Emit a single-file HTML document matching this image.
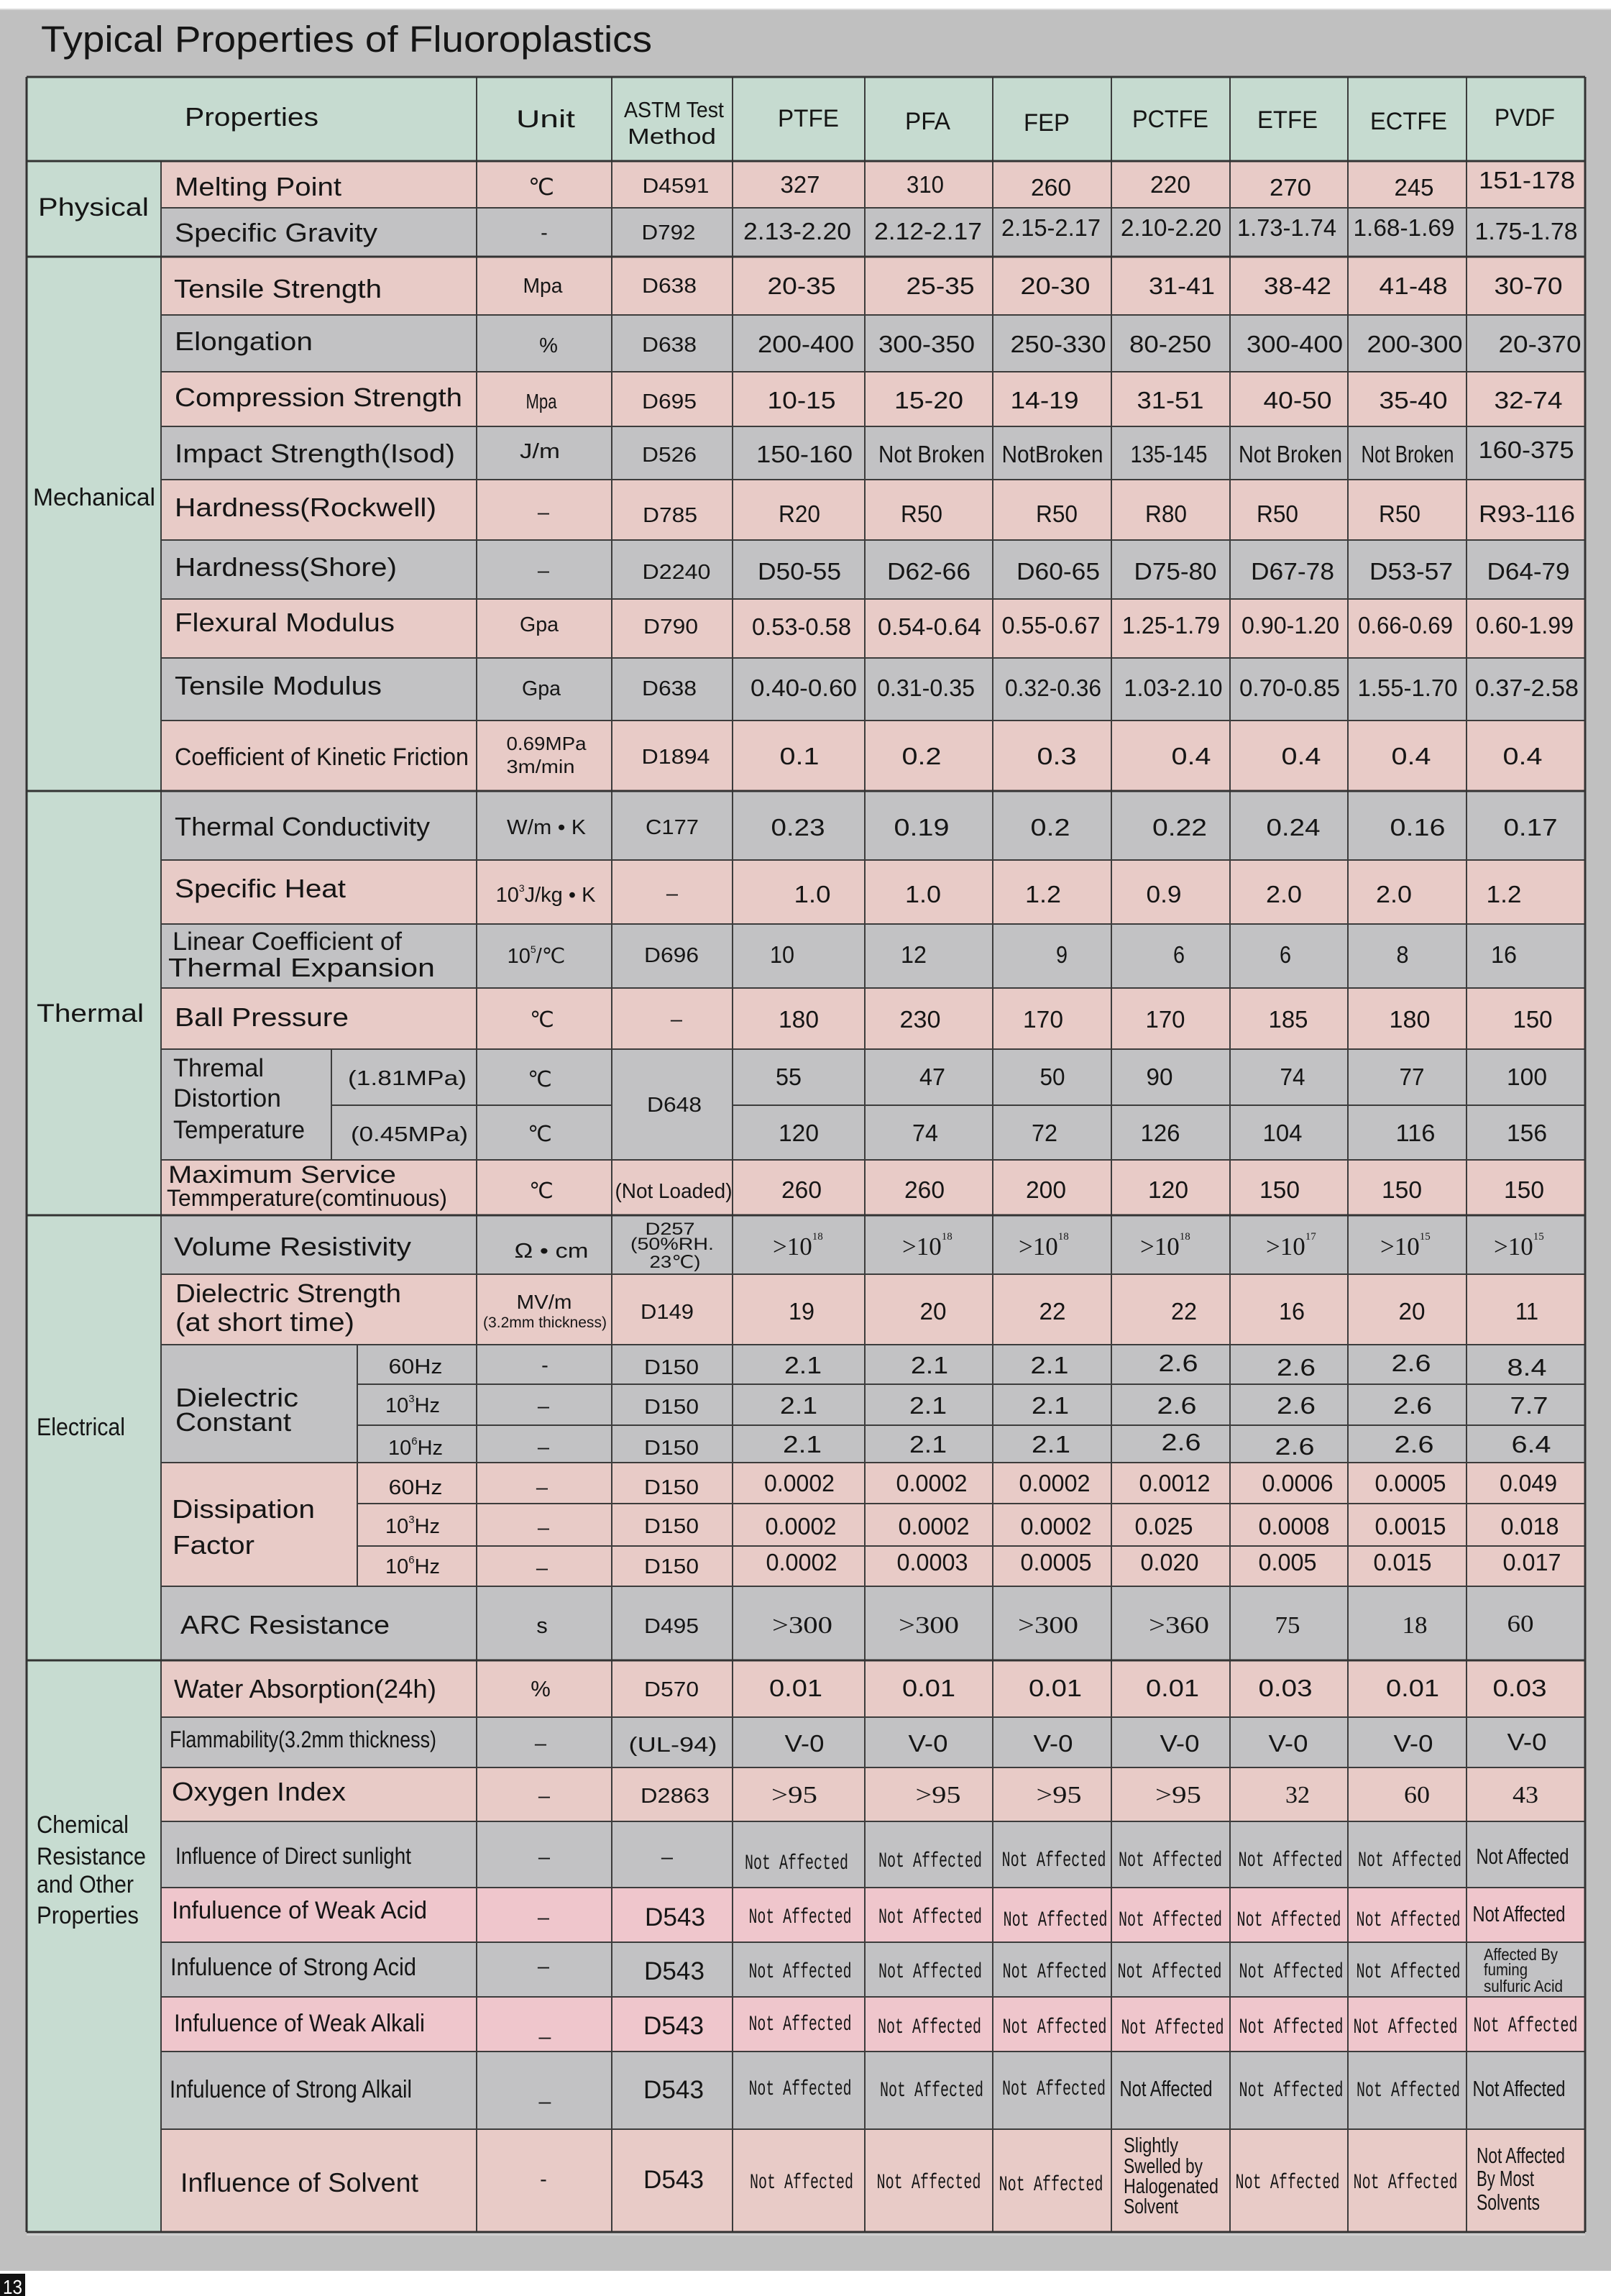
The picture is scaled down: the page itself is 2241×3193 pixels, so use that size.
<!DOCTYPE html>
<html><head><meta charset="utf-8">
<style>
html,body{margin:0;padding:0;background:#fff;}
svg{display:block;}
.t{font-family:"Liberation Sans",sans-serif;fill:#151515;}
.m{text-anchor:middle;}
.s{font-family:"Liberation Serif",serif;}
.na{font-family:"Liberation Mono",monospace;}
</style></head>
<body>
<svg xmlns="http://www.w3.org/2000/svg" width="2241" height="3193" viewBox="0 0 2241 3193">
<rect x="0" y="0" width="2241" height="3193" fill="#ffffff"/>
<rect x="0" y="12" width="2241" height="3146" fill="#c0c0c0"/>
<rect x="0" y="12" width="2241" height="2" fill="#d8d8d8"/>
<text class="t" x="57" y="72" font-size="51" textLength="850" lengthAdjust="spacingAndGlyphs">Typical Properties of Fluoroplastics</text>

<!-- header & category fills -->
<rect x="37" y="107" width="2168" height="117" fill="#c6dbd0"/>
<rect x="37" y="224" width="187" height="2880" fill="#c7dcd1"/>
<!-- row fills -->
<g>
<rect x="224" y="224" width="1981" height="65" fill="#e8cbc7"/>
<rect x="224" y="289" width="1981" height="68" fill="#c2c2c4"/>
<rect x="224" y="357" width="1981" height="81" fill="#e8cbc7"/>
<rect x="224" y="438" width="1981" height="79" fill="#c2c2c4"/>
<rect x="224" y="517" width="1981" height="76" fill="#e8cbc7"/>
<rect x="224" y="593" width="1981" height="74" fill="#c2c2c4"/>
<rect x="224" y="667" width="1981" height="84" fill="#e8cbc7"/>
<rect x="224" y="751" width="1981" height="82" fill="#c2c2c4"/>
<rect x="224" y="833" width="1981" height="82" fill="#e8cbc7"/>
<rect x="224" y="915" width="1981" height="87" fill="#c2c2c4"/>
<rect x="224" y="1002" width="1981" height="98" fill="#e8cbc7"/>
<rect x="224" y="1100" width="1981" height="96" fill="#c2c2c4"/>
<rect x="224" y="1196" width="1981" height="89" fill="#e8cbc7"/>
<rect x="224" y="1285" width="1981" height="89" fill="#c2c2c4"/>
<rect x="224" y="1374" width="1981" height="85" fill="#e8cbc7"/>
<rect x="224" y="1459" width="1981" height="154" fill="#c2c2c4"/>
<rect x="224" y="1613" width="1981" height="77" fill="#e8cbc7"/>
<rect x="224" y="1690" width="1981" height="82" fill="#c2c2c4"/>
<rect x="224" y="1772" width="1981" height="98" fill="#e8cbc7"/>
<rect x="224" y="1870" width="1981" height="164" fill="#c2c2c4"/>
<rect x="224" y="2034" width="1981" height="172" fill="#e8cbc7"/>
<rect x="224" y="2206" width="1981" height="103" fill="#c2c2c4"/>
<rect x="224" y="2309" width="1981" height="79" fill="#e8cbc7"/>
<rect x="224" y="2388" width="1981" height="70" fill="#c2c2c4"/>
<rect x="224" y="2458" width="1981" height="75" fill="#e8cbc7"/>
<rect x="224" y="2533" width="1981" height="92" fill="#c2c2c4"/>
<rect x="224" y="2625" width="1981" height="76" fill="#efc6cc"/>
<rect x="224" y="2701" width="1981" height="76" fill="#c2c2c4"/>
<rect x="224" y="2777" width="1981" height="76" fill="#efc6cc"/>
<rect x="224" y="2853" width="1981" height="108" fill="#c2c2c4"/>
<rect x="224" y="2961" width="1981" height="143" fill="#e8cbc7"/>
</g>

<!-- grid lines -->
<g stroke="#3c3c3c" stroke-width="2" fill="none">
<path d="M224 289H2205M224 438H2205M224 517H2205M224 593H2205M224 667H2205M224 751H2205M224 833H2205M224 915H2205M224 1002H2205M224 1196H2205M224 1285H2205M224 1374H2205M224 1459H2205M224 1613H2205M224 1772H2205M224 1870H2205M224 2034H2205M224 2206H2205M224 2388H2205M224 2458H2205M224 2533H2205M224 2625H2205M224 2701H2205M224 2777H2205M224 2853H2205M224 2961H2205"/>
<path d="M461 1537H851M1019 1537H2205M497 1925H2205M497 1982H2205M497 2091H2205M497 2150H2205"/>
<path d="M663 107V3104M851 107V3104M1019 107V3104M1203 107V3104M1381 107V3104M1546 107V3104M1711 107V3104M1875 107V3104M2040 107V3104M224 224V3104M461 1459V1613M497 1870V2206"/>
</g>
<g stroke="#333" stroke-width="3" fill="none">
<path d="M37 107H2205M37 224H2205M37 357H2205M37 1100H2205M37 1690H2205M37 2309H2205M37 3104H2205"/>
<path d="M37 107V3104M2205 107V3104"/>
</g>
<rect x="37" y="3106" width="2168" height="3" fill="#d0d0d0"/>

<!-- header text -->
<g class="t" font-size="34">
<text x="257" y="175" font-size="36" textLength="186" lengthAdjust="spacingAndGlyphs">Properties</text>
<text x="718" y="177" textLength="82" lengthAdjust="spacingAndGlyphs">Unit</text>
<text x="868" y="163" font-size="31" textLength="139" lengthAdjust="spacingAndGlyphs">ASTM Test</text>
<text x="873" y="200" font-size="31" textLength="123" lengthAdjust="spacingAndGlyphs">Method</text>
<text x="1082" y="176" textLength="85" lengthAdjust="spacingAndGlyphs">PTFE</text>
<text x="1259" y="180" textLength="63" lengthAdjust="spacingAndGlyphs">PFA</text>
<text x="1424" y="182" textLength="64" lengthAdjust="spacingAndGlyphs">FEP</text>
<text x="1575" y="177" textLength="106" lengthAdjust="spacingAndGlyphs">PCTFE</text>
<text x="1749" y="178" textLength="84" lengthAdjust="spacingAndGlyphs">ETFE</text>
<text x="1906" y="180" textLength="107" lengthAdjust="spacingAndGlyphs">ECTFE</text>
<text x="2079" y="175" textLength="84" lengthAdjust="spacingAndGlyphs">PVDF</text>
</g>

<!-- category labels -->
<g class="t" font-size="35">
<text x="53" y="300" textLength="154" lengthAdjust="spacingAndGlyphs">Physical</text>
<text x="46" y="703" font-size="34" textLength="170" lengthAdjust="spacingAndGlyphs">Mechanical</text>
<text x="51" y="1421" textLength="149" lengthAdjust="spacingAndGlyphs">Thermal</text>
<text x="51" y="1996" font-size="34" textLength="123" lengthAdjust="spacingAndGlyphs">Electrical</text>
<text x="51" y="2549" font-size="34" textLength="128" lengthAdjust="spacingAndGlyphs">Chemical</text>
<text x="51" y="2593" font-size="34" textLength="152" lengthAdjust="spacingAndGlyphs">Resistance</text>
<text x="51" y="2632" font-size="34" textLength="135" lengthAdjust="spacingAndGlyphs">and Other</text>
<text x="51" y="2675" font-size="34" textLength="142" lengthAdjust="spacingAndGlyphs">Properties</text>
</g>

<!-- property labels -->
<g class="t" font-size="36">
<text x="243" y="272" textLength="232" lengthAdjust="spacingAndGlyphs">Melting Point</text>
<text x="243" y="336" textLength="282" lengthAdjust="spacingAndGlyphs">Specific Gravity</text>
<text x="242" y="414" textLength="289" lengthAdjust="spacingAndGlyphs">Tensile Strength</text>
<text x="243" y="487" textLength="192" lengthAdjust="spacingAndGlyphs">Elongation</text>
<text x="243" y="565" textLength="400" lengthAdjust="spacingAndGlyphs">Compression Strength</text>
<text x="243" y="643" textLength="390" lengthAdjust="spacingAndGlyphs">Impact Strength(Isod)</text>
<text x="243" y="718" textLength="364" lengthAdjust="spacingAndGlyphs">Hardness(Rockwell)</text>
<text x="243" y="801" textLength="309" lengthAdjust="spacingAndGlyphs">Hardness(Shore)</text>
<text x="243" y="878" textLength="306" lengthAdjust="spacingAndGlyphs">Flexural Modulus</text>
<text x="243" y="966" textLength="288" lengthAdjust="spacingAndGlyphs">Tensile Modulus</text>
<text x="243" y="1064" font-size="34" textLength="409" lengthAdjust="spacingAndGlyphs">Coefficient of Kinetic Friction</text>
<text x="243" y="1162" textLength="355" lengthAdjust="spacingAndGlyphs">Thermal Conductivity</text>
<text x="243" y="1248" textLength="238" lengthAdjust="spacingAndGlyphs">Specific Heat</text>
<text x="240" y="1321" font-size="35" textLength="319" lengthAdjust="spacingAndGlyphs">Linear Coefficient of</text>
<text x="234" y="1358" textLength="371" lengthAdjust="spacingAndGlyphs">Thermal  Expansion</text>
<text x="243" y="1427" textLength="242" lengthAdjust="spacingAndGlyphs">Ball Pressure</text>
<text x="241" y="1497" font-size="35" textLength="126" lengthAdjust="spacingAndGlyphs">Thremal</text>
<text x="241" y="1539" font-size="35" textLength="150" lengthAdjust="spacingAndGlyphs">Distortion</text>
<text x="241" y="1583" font-size="35" textLength="183" lengthAdjust="spacingAndGlyphs">Temperature</text>
<text x="484" y="1509" font-size="29" textLength="165" lengthAdjust="spacingAndGlyphs">(1.81MPa)</text>
<text x="488" y="1587" font-size="29" textLength="163" lengthAdjust="spacingAndGlyphs">(0.45MPa)</text>
<text x="234" y="1645" font-size="34" textLength="317" lengthAdjust="spacingAndGlyphs">Maximum Service</text>
<text x="232" y="1677" font-size="32" textLength="390" lengthAdjust="spacingAndGlyphs">Temmperature(comtinuous)</text>
<text x="242" y="1746" textLength="330" lengthAdjust="spacingAndGlyphs">Volume Resistivity</text>
<text x="244" y="1811" font-size="36" textLength="314" lengthAdjust="spacingAndGlyphs">Dielectric Strength</text>
<text x="244" y="1851" font-size="36" textLength="249" lengthAdjust="spacingAndGlyphs">(at short time)</text>
<text x="244" y="1956" font-size="36" textLength="171" lengthAdjust="spacingAndGlyphs">Dielectric</text>
<text x="244" y="1990" font-size="36" textLength="161" lengthAdjust="spacingAndGlyphs">Constant</text>
<text x="239" y="2111" font-size="36" textLength="199" lengthAdjust="spacingAndGlyphs">Dissipation</text>
<text x="240" y="2161" font-size="36" textLength="114" lengthAdjust="spacingAndGlyphs">Factor</text>
<text x="251" y="2272" textLength="291" lengthAdjust="spacingAndGlyphs">ARC Resistance</text>
<text x="242" y="2361" font-size="36" textLength="365" lengthAdjust="spacingAndGlyphs">Water Absorption(24h)</text>
<text x="236" y="2430" font-size="32" textLength="371" lengthAdjust="spacingAndGlyphs">Flammability(3.2mm thickness)</text>
<text x="239" y="2504" textLength="242" lengthAdjust="spacingAndGlyphs">Oxygen Index</text>
<text x="244" y="2592" font-size="32" textLength="328" lengthAdjust="spacingAndGlyphs">Influence of Direct sunlight</text>
<text x="239" y="2668" font-size="34" textLength="355" lengthAdjust="spacingAndGlyphs">Infuluence of Weak Acid</text>
<text x="237" y="2747" font-size="34" textLength="342" lengthAdjust="spacingAndGlyphs">Infuluence of Strong Acid</text>
<text x="242" y="2825" font-size="34" textLength="349" lengthAdjust="spacingAndGlyphs">Infuluence of Weak Alkali</text>
<text x="236" y="2917" font-size="34" textLength="337" lengthAdjust="spacingAndGlyphs">Infuluence of Strong Alkail</text>
<text x="251" y="3048" font-size="37" textLength="331" lengthAdjust="spacingAndGlyphs">Influence of Solvent</text>
</g>
<g class="t m" font-size="29">
<text x="578" y="1910" textLength="75" lengthAdjust="spacingAndGlyphs">60Hz</text>
<text x="574" y="1964">10<tspan font-size="15" dy="-14">3</tspan><tspan dy="14">Hz</tspan></text>
<text x="578" y="2023">10<tspan font-size="15" dy="-14">6</tspan><tspan dy="14">Hz</tspan></text>
<text x="578" y="2078" textLength="75" lengthAdjust="spacingAndGlyphs">60Hz</text>
<text x="574" y="2132">10<tspan font-size="15" dy="-14">3</tspan><tspan dy="14">Hz</tspan></text>
<text x="574" y="2188">10<tspan font-size="15" dy="-14">6</tspan><tspan dy="14">Hz</tspan></text>
</g>

<!-- unit column -->
<g class="t m" font-size="29">
<text x="753" y="271" font-size="32">℃</text>
<text x="757" y="333">-</text>
<text x="755" y="407" textLength="55" lengthAdjust="spacingAndGlyphs">Mpa</text>
<text x="763" y="490">%</text>
<text x="753" y="568" textLength="43" lengthAdjust="spacingAndGlyphs">Mpa</text>
<text x="751" y="637" textLength="56" lengthAdjust="spacingAndGlyphs">J/m</text>
<text x="756" y="722">–</text>
<text x="756" y="803">–</text>
<text x="750" y="878" textLength="54" lengthAdjust="spacingAndGlyphs">Gpa</text>
<text x="753" y="967" textLength="54" lengthAdjust="spacingAndGlyphs">Gpa</text>
<text x="760" y="1043" font-size="26" textLength="111" lengthAdjust="spacingAndGlyphs">0.69MPa</text>
<text x="752" y="1075" font-size="26" textLength="95" lengthAdjust="spacingAndGlyphs">3m/min</text>
<text x="760" y="1160" textLength="110" lengthAdjust="spacingAndGlyphs">W/m • K</text>
<text x="759" y="1254">10<tspan font-size="14" dy="-14">3</tspan><tspan dy="14">J/kg • K</tspan></text>
<text x="746" y="1339">10<tspan font-size="14" dy="-14">5</tspan><tspan dy="14">/℃</tspan></text>
<text x="754" y="1428" font-size="30">℃</text>
<text x="751" y="1511" font-size="30">℃</text>
<text x="751" y="1587" font-size="30">℃</text>
<text x="753" y="1666" font-size="30">℃</text>
<text x="767" y="1749" textLength="103" lengthAdjust="spacingAndGlyphs">Ω • cm</text>
<text x="757" y="1820" font-size="28" textLength="77" lengthAdjust="spacingAndGlyphs">MV/m</text>
<text x="758" y="1846" font-size="21" textLength="172" lengthAdjust="spacingAndGlyphs">(3.2mm thickness)</text>
<text x="758" y="1908">-</text>
<text x="756" y="1965">–</text>
<text x="756" y="2022">–</text>
<text x="754" y="2078">–</text>
<text x="756" y="2134">–</text>
<text x="754" y="2190">–</text>
<text x="754" y="2271" font-size="31">s</text>
<text x="752" y="2359" font-size="31">%</text>
<text x="752" y="2434">–</text>
<text x="757" y="2507">–</text>
<text x="757" y="2592">–</text>
<text x="756" y="2676">–</text>
<text x="756" y="2744">–</text>
<text x="758" y="2830">_</text>
<text x="758" y="2920">_</text>
<text x="756" y="3040">-</text>
</g>

<!-- ASTM column -->
<g class="t m" font-size="29">
<text x="940" y="268" textLength="93" lengthAdjust="spacingAndGlyphs">D4591</text>
<text x="930" y="333" textLength="75" lengthAdjust="spacingAndGlyphs">D792</text>
<text x="931" y="407" textLength="76" lengthAdjust="spacingAndGlyphs">D638</text>
<text x="931" y="489" textLength="76" lengthAdjust="spacingAndGlyphs">D638</text>
<text x="931" y="568" textLength="76" lengthAdjust="spacingAndGlyphs">D695</text>
<text x="931" y="642" textLength="76" lengthAdjust="spacingAndGlyphs">D526</text>
<text x="932" y="726" textLength="76" lengthAdjust="spacingAndGlyphs">D785</text>
<text x="941" y="805" textLength="95" lengthAdjust="spacingAndGlyphs">D2240</text>
<text x="933" y="881" textLength="76" lengthAdjust="spacingAndGlyphs">D790</text>
<text x="931" y="967" textLength="76" lengthAdjust="spacingAndGlyphs">D638</text>
<text x="940" y="1062" textLength="95" lengthAdjust="spacingAndGlyphs">D1894</text>
<text x="935" y="1160" textLength="74" lengthAdjust="spacingAndGlyphs">C177</text>
<text x="935" y="1252">–</text>
<text x="934" y="1338" textLength="76" lengthAdjust="spacingAndGlyphs">D696</text>
<text x="941" y="1427">–</text>
<text x="938" y="1546" textLength="76" lengthAdjust="spacingAndGlyphs">D648</text>
<text x="937" y="1666" textLength="163" lengthAdjust="spacingAndGlyphs">(Not Loaded)</text>
<text x="932" y="1717" font-size="24" textLength="69" lengthAdjust="spacingAndGlyphs">D257</text>
<text x="935" y="1738" font-size="24" textLength="116" lengthAdjust="spacingAndGlyphs">(50%RH.</text>
<text x="939" y="1763" font-size="24" textLength="71" lengthAdjust="spacingAndGlyphs">23℃)</text>
<text x="928" y="1834" textLength="74" lengthAdjust="spacingAndGlyphs">D149</text>
<text x="934" y="1911" textLength="76" lengthAdjust="spacingAndGlyphs">D150</text>
<text x="934" y="1966" textLength="76" lengthAdjust="spacingAndGlyphs">D150</text>
<text x="934" y="2023" textLength="76" lengthAdjust="spacingAndGlyphs">D150</text>
<text x="934" y="2078" textLength="76" lengthAdjust="spacingAndGlyphs">D150</text>
<text x="934" y="2132" textLength="76" lengthAdjust="spacingAndGlyphs">D150</text>
<text x="934" y="2188" textLength="76" lengthAdjust="spacingAndGlyphs">D150</text>
<text x="934" y="2271" textLength="76" lengthAdjust="spacingAndGlyphs">D495</text>
<text x="934" y="2359" textLength="76" lengthAdjust="spacingAndGlyphs">D570</text>
<text x="936" y="2436" textLength="123" lengthAdjust="spacingAndGlyphs">(UL-94)</text>
<text x="939" y="2507" textLength="96" lengthAdjust="spacingAndGlyphs">D2863</text>
<text x="928" y="2592">–</text>
<text x="939" y="2678" font-size="35" textLength="84" lengthAdjust="spacingAndGlyphs">D543</text>
<text x="938" y="2753" font-size="35" textLength="84" lengthAdjust="spacingAndGlyphs">D543</text>
<text x="937" y="2829" font-size="35" textLength="84" lengthAdjust="spacingAndGlyphs">D543</text>
<text x="937" y="2918" font-size="35" textLength="84" lengthAdjust="spacingAndGlyphs">D543</text>
<text x="937" y="3043" font-size="35" textLength="84" lengthAdjust="spacingAndGlyphs">D543</text>
</g>

<!-- data values -->
<g class="t m" font-size="33">
<!-- melting -->
<text x="1113" y="268" textLength="55" lengthAdjust="spacingAndGlyphs">327</text>
<text x="1287" y="268" textLength="52" lengthAdjust="spacingAndGlyphs">310</text>
<text x="1462" y="272" textLength="56" lengthAdjust="spacingAndGlyphs">260</text>
<text x="1628" y="268" textLength="56" lengthAdjust="spacingAndGlyphs">220</text>
<text x="1795" y="272" textLength="58" lengthAdjust="spacingAndGlyphs">270</text>
<text x="1967" y="272" textLength="55" lengthAdjust="spacingAndGlyphs">245</text>
<text x="2124" y="262" textLength="134" lengthAdjust="spacingAndGlyphs">151-178</text>
<!-- SG -->
<text x="1109" y="333" textLength="150" lengthAdjust="spacingAndGlyphs">2.13-2.20</text>
<text x="1291" y="333" textLength="150" lengthAdjust="spacingAndGlyphs">2.12-2.17</text>
<text x="1462" y="328" textLength="138" lengthAdjust="spacingAndGlyphs">2.15-2.17</text>
<text x="1629" y="328" textLength="140" lengthAdjust="spacingAndGlyphs">2.10-2.20</text>
<text x="1790" y="328" textLength="138" lengthAdjust="spacingAndGlyphs">1.73-1.74</text>
<text x="1953" y="328" textLength="141" lengthAdjust="spacingAndGlyphs">1.68-1.69</text>
<text x="2123" y="333" textLength="143" lengthAdjust="spacingAndGlyphs">1.75-1.78</text>
<!-- tensile -->
<text x="1115" y="409" textLength="95" lengthAdjust="spacingAndGlyphs">20-35</text>
<text x="1308" y="409" textLength="95" lengthAdjust="spacingAndGlyphs">25-35</text>
<text x="1468" y="409" textLength="97" lengthAdjust="spacingAndGlyphs">20-30</text>
<text x="1644" y="409" textLength="92" lengthAdjust="spacingAndGlyphs">31-41</text>
<text x="1805" y="409" textLength="94" lengthAdjust="spacingAndGlyphs">38-42</text>
<text x="1966" y="409" textLength="95" lengthAdjust="spacingAndGlyphs">41-48</text>
<text x="2126" y="409" textLength="95" lengthAdjust="spacingAndGlyphs">30-70</text>
<!-- elongation -->
<text x="1121" y="490" textLength="134" lengthAdjust="spacingAndGlyphs">200-400</text>
<text x="1289" y="490" textLength="134" lengthAdjust="spacingAndGlyphs">300-350</text>
<text x="1472" y="490" textLength="133" lengthAdjust="spacingAndGlyphs">250-330</text>
<text x="1628" y="490" textLength="114" lengthAdjust="spacingAndGlyphs">80-250</text>
<text x="1801" y="490" textLength="134" lengthAdjust="spacingAndGlyphs">300-400</text>
<text x="1968" y="490" textLength="133" lengthAdjust="spacingAndGlyphs">200-300</text>
<text x="2142" y="490" textLength="115" lengthAdjust="spacingAndGlyphs">20-370</text>
<!-- compression -->
<text x="1115" y="568" textLength="95" lengthAdjust="spacingAndGlyphs">10-15</text>
<text x="1292" y="568" textLength="96" lengthAdjust="spacingAndGlyphs">15-20</text>
<text x="1453" y="568" textLength="95" lengthAdjust="spacingAndGlyphs">14-19</text>
<text x="1628" y="568" textLength="93" lengthAdjust="spacingAndGlyphs">31-51</text>
<text x="1805" y="568" textLength="95" lengthAdjust="spacingAndGlyphs">40-50</text>
<text x="1966" y="568" textLength="95" lengthAdjust="spacingAndGlyphs">35-40</text>
<text x="2126" y="568" textLength="95" lengthAdjust="spacingAndGlyphs">32-74</text>
<!-- impact -->
<text x="1119" y="643" textLength="134" lengthAdjust="spacingAndGlyphs">150-160</text>
<text x="1296" y="643" textLength="148" lengthAdjust="spacingAndGlyphs">Not Broken</text>
<text x="1464" y="643" textLength="141" lengthAdjust="spacingAndGlyphs">NotBroken</text>
<text x="1626" y="643" textLength="107" lengthAdjust="spacingAndGlyphs">135-145</text>
<text x="1795" y="643" textLength="144" lengthAdjust="spacingAndGlyphs">Not Broken</text>
<text x="1958" y="643" textLength="129" lengthAdjust="spacingAndGlyphs">Not Broken</text>
<text x="2123" y="637" textLength="133" lengthAdjust="spacingAndGlyphs">160-375</text>
<!-- hardness R -->
<text x="1112" y="726" textLength="58" lengthAdjust="spacingAndGlyphs">R20</text>
<text x="1282" y="726" textLength="58" lengthAdjust="spacingAndGlyphs">R50</text>
<text x="1470" y="726" textLength="58" lengthAdjust="spacingAndGlyphs">R50</text>
<text x="1622" y="726" textLength="58" lengthAdjust="spacingAndGlyphs">R80</text>
<text x="1777" y="726" textLength="58" lengthAdjust="spacingAndGlyphs">R50</text>
<text x="1947" y="726" textLength="58" lengthAdjust="spacingAndGlyphs">R50</text>
<text x="2124" y="726" textLength="134" lengthAdjust="spacingAndGlyphs">R93-116</text>
<!-- shore -->
<text x="1112" y="806" textLength="116" lengthAdjust="spacingAndGlyphs">D50-55</text>
<text x="1292" y="806" textLength="116" lengthAdjust="spacingAndGlyphs">D62-66</text>
<text x="1472" y="806" textLength="116" lengthAdjust="spacingAndGlyphs">D60-65</text>
<text x="1635" y="806" textLength="115" lengthAdjust="spacingAndGlyphs">D75-80</text>
<text x="1798" y="806" textLength="116" lengthAdjust="spacingAndGlyphs">D67-78</text>
<text x="1963" y="806" textLength="116" lengthAdjust="spacingAndGlyphs">D53-57</text>
<text x="2126" y="806" textLength="115" lengthAdjust="spacingAndGlyphs">D64-79</text>
<!-- flexural -->
<text x="1115" y="883" textLength="138" lengthAdjust="spacingAndGlyphs">0.53-0.58</text>
<text x="1293" y="883" textLength="144" lengthAdjust="spacingAndGlyphs">0.54-0.64</text>
<text x="1462" y="881" textLength="137" lengthAdjust="spacingAndGlyphs">0.55-0.67</text>
<text x="1629" y="881" textLength="136" lengthAdjust="spacingAndGlyphs">1.25-1.79</text>
<text x="1795" y="881" textLength="136" lengthAdjust="spacingAndGlyphs">0.90-1.20</text>
<text x="1955" y="881" textLength="132" lengthAdjust="spacingAndGlyphs">0.66-0.69</text>
<text x="2121" y="881" textLength="136" lengthAdjust="spacingAndGlyphs">0.60-1.99</text>
<!-- tensile modulus -->
<text x="1118" y="968" textLength="148" lengthAdjust="spacingAndGlyphs">0.40-0.60</text>
<text x="1288" y="968" textLength="136" lengthAdjust="spacingAndGlyphs">0.31-0.35</text>
<text x="1465" y="968" textLength="134" lengthAdjust="spacingAndGlyphs">0.32-0.36</text>
<text x="1632" y="968" textLength="137" lengthAdjust="spacingAndGlyphs">1.03-2.10</text>
<text x="1794" y="968" textLength="140" lengthAdjust="spacingAndGlyphs">0.70-0.85</text>
<text x="1958" y="968" textLength="139" lengthAdjust="spacingAndGlyphs">1.55-1.70</text>
<text x="2124" y="968" textLength="144" lengthAdjust="spacingAndGlyphs">0.37-2.58</text>
<!-- coefficient -->
<text x="1112" y="1063" textLength="55" lengthAdjust="spacingAndGlyphs">0.1</text>
<text x="1282" y="1063" textLength="55" lengthAdjust="spacingAndGlyphs">0.2</text>
<text x="1470" y="1063" textLength="55" lengthAdjust="spacingAndGlyphs">0.3</text>
<text x="1657" y="1063" textLength="55" lengthAdjust="spacingAndGlyphs">0.4</text>
<text x="1810" y="1063" textLength="55" lengthAdjust="spacingAndGlyphs">0.4</text>
<text x="1963" y="1063" textLength="55" lengthAdjust="spacingAndGlyphs">0.4</text>
<text x="2118" y="1063" textLength="55" lengthAdjust="spacingAndGlyphs">0.4</text>
<!-- thermal conductivity -->
<text x="1110" y="1162" textLength="75" lengthAdjust="spacingAndGlyphs">0.23</text>
<text x="1282" y="1162" textLength="77" lengthAdjust="spacingAndGlyphs">0.19</text>
<text x="1461" y="1162" textLength="55" lengthAdjust="spacingAndGlyphs">0.2</text>
<text x="1641" y="1162" textLength="76" lengthAdjust="spacingAndGlyphs">0.22</text>
<text x="1799" y="1162" textLength="75" lengthAdjust="spacingAndGlyphs">0.24</text>
<text x="1972" y="1162" textLength="77" lengthAdjust="spacingAndGlyphs">0.16</text>
<text x="2129" y="1162" textLength="75" lengthAdjust="spacingAndGlyphs">0.17</text>
<!-- specific heat -->
<text x="1130" y="1255" textLength="51" lengthAdjust="spacingAndGlyphs">1.0</text>
<text x="1284" y="1255" textLength="50" lengthAdjust="spacingAndGlyphs">1.0</text>
<text x="1451" y="1255" textLength="50" lengthAdjust="spacingAndGlyphs">1.2</text>
<text x="1619" y="1255" textLength="49" lengthAdjust="spacingAndGlyphs">0.9</text>
<text x="1786" y="1255" textLength="50" lengthAdjust="spacingAndGlyphs">2.0</text>
<text x="1939" y="1255" textLength="50" lengthAdjust="spacingAndGlyphs">2.0</text>
<text x="2092" y="1255" textLength="49" lengthAdjust="spacingAndGlyphs">1.2</text>
<!-- linear -->
<text x="1088" y="1339" textLength="34" lengthAdjust="spacingAndGlyphs">10</text>
<text x="1271" y="1339" textLength="36" lengthAdjust="spacingAndGlyphs">12</text>
<text x="1477" y="1339" textLength="16" lengthAdjust="spacingAndGlyphs">9</text>
<text x="1640" y="1339" textLength="16" lengthAdjust="spacingAndGlyphs">6</text>
<text x="1788" y="1339" textLength="16" lengthAdjust="spacingAndGlyphs">6</text>
<text x="1951" y="1339" textLength="17" lengthAdjust="spacingAndGlyphs">8</text>
<text x="2092" y="1339" textLength="36" lengthAdjust="spacingAndGlyphs">16</text>
<!-- ball -->
<text x="1111" y="1429" textLength="56" lengthAdjust="spacingAndGlyphs">180</text>
<text x="1280" y="1429" textLength="57" lengthAdjust="spacingAndGlyphs">230</text>
<text x="1451" y="1429" textLength="56" lengthAdjust="spacingAndGlyphs">170</text>
<text x="1621" y="1429" textLength="55" lengthAdjust="spacingAndGlyphs">170</text>
<text x="1792" y="1429" textLength="55" lengthAdjust="spacingAndGlyphs">185</text>
<text x="1961" y="1429" textLength="57" lengthAdjust="spacingAndGlyphs">180</text>
<text x="2132" y="1429" textLength="55" lengthAdjust="spacingAndGlyphs">150</text>
<!-- TD 1.81 -->
<text x="1097" y="1509" textLength="36" lengthAdjust="spacingAndGlyphs">55</text>
<text x="1297" y="1509" textLength="36" lengthAdjust="spacingAndGlyphs">47</text>
<text x="1464" y="1509" textLength="35" lengthAdjust="spacingAndGlyphs">50</text>
<text x="1613" y="1509" textLength="37" lengthAdjust="spacingAndGlyphs">90</text>
<text x="1798" y="1509" textLength="35" lengthAdjust="spacingAndGlyphs">74</text>
<text x="1964" y="1509" textLength="35" lengthAdjust="spacingAndGlyphs">77</text>
<text x="2124" y="1509" textLength="56" lengthAdjust="spacingAndGlyphs">100</text>
<!-- TD 0.45 -->
<text x="1111" y="1587" textLength="56" lengthAdjust="spacingAndGlyphs">120</text>
<text x="1287" y="1587" textLength="36" lengthAdjust="spacingAndGlyphs">74</text>
<text x="1453" y="1587" textLength="36" lengthAdjust="spacingAndGlyphs">72</text>
<text x="1614" y="1587" textLength="55" lengthAdjust="spacingAndGlyphs">126</text>
<text x="1784" y="1587" textLength="55" lengthAdjust="spacingAndGlyphs">104</text>
<text x="1969" y="1587" textLength="55" lengthAdjust="spacingAndGlyphs">116</text>
<text x="2124" y="1587" textLength="56" lengthAdjust="spacingAndGlyphs">156</text>
<!-- max service -->
<text x="1115" y="1666" textLength="56" lengthAdjust="spacingAndGlyphs">260</text>
<text x="1286" y="1666" textLength="56" lengthAdjust="spacingAndGlyphs">260</text>
<text x="1455" y="1666" textLength="56" lengthAdjust="spacingAndGlyphs">200</text>
<text x="1625" y="1666" textLength="56" lengthAdjust="spacingAndGlyphs">120</text>
<text x="1780" y="1666" textLength="56" lengthAdjust="spacingAndGlyphs">150</text>
<text x="1950" y="1666" textLength="56" lengthAdjust="spacingAndGlyphs">150</text>
<text x="2120" y="1666" textLength="56" lengthAdjust="spacingAndGlyphs">150</text>
<!-- dielectric strength -->
<text x="1115" y="1835" textLength="36" lengthAdjust="spacingAndGlyphs">19</text>
<text x="1298" y="1835" textLength="37" lengthAdjust="spacingAndGlyphs">20</text>
<text x="1464" y="1835" textLength="37" lengthAdjust="spacingAndGlyphs">22</text>
<text x="1647" y="1835" textLength="36" lengthAdjust="spacingAndGlyphs">22</text>
<text x="1797" y="1835" textLength="36" lengthAdjust="spacingAndGlyphs">16</text>
<text x="1964" y="1835" textLength="37" lengthAdjust="spacingAndGlyphs">20</text>
<text x="2124" y="1835" textLength="32" lengthAdjust="spacingAndGlyphs">11</text>
<!-- dielectric constant -->
<text x="1117" y="1910" textLength="52" lengthAdjust="spacingAndGlyphs">2.1</text>
<text x="1293" y="1910" textLength="52" lengthAdjust="spacingAndGlyphs">2.1</text>
<text x="1460" y="1910" textLength="53" lengthAdjust="spacingAndGlyphs">2.1</text>
<text x="1639" y="1907" textLength="55" lengthAdjust="spacingAndGlyphs">2.6</text>
<text x="1803" y="1913" textLength="54" lengthAdjust="spacingAndGlyphs">2.6</text>
<text x="1963" y="1907" textLength="55" lengthAdjust="spacingAndGlyphs">2.6</text>
<text x="2124" y="1913" textLength="55" lengthAdjust="spacingAndGlyphs">8.4</text>
<text x="1111" y="1966" textLength="52" lengthAdjust="spacingAndGlyphs">2.1</text>
<text x="1291" y="1966" textLength="52" lengthAdjust="spacingAndGlyphs">2.1</text>
<text x="1461" y="1966" textLength="52" lengthAdjust="spacingAndGlyphs">2.1</text>
<text x="1637" y="1966" textLength="55" lengthAdjust="spacingAndGlyphs">2.6</text>
<text x="1803" y="1966" textLength="54" lengthAdjust="spacingAndGlyphs">2.6</text>
<text x="1965" y="1966" textLength="54" lengthAdjust="spacingAndGlyphs">2.6</text>
<text x="2127" y="1966" textLength="53" lengthAdjust="spacingAndGlyphs">7.7</text>
<text x="1116" y="2020" textLength="54" lengthAdjust="spacingAndGlyphs">2.1</text>
<text x="1291" y="2020" textLength="52" lengthAdjust="spacingAndGlyphs">2.1</text>
<text x="1462" y="2020" textLength="54" lengthAdjust="spacingAndGlyphs">2.1</text>
<text x="1643" y="2017" textLength="55" lengthAdjust="spacingAndGlyphs">2.6</text>
<text x="1801" y="2023" textLength="55" lengthAdjust="spacingAndGlyphs">2.6</text>
<text x="1967" y="2020" textLength="55" lengthAdjust="spacingAndGlyphs">2.6</text>
<text x="2130" y="2020" textLength="55" lengthAdjust="spacingAndGlyphs">6.4</text>
<!-- dissipation -->
<text x="1112" y="2074" textLength="98" lengthAdjust="spacingAndGlyphs">0.0002</text>
<text x="1296" y="2074" textLength="99" lengthAdjust="spacingAndGlyphs">0.0002</text>
<text x="1467" y="2074" textLength="99" lengthAdjust="spacingAndGlyphs">0.0002</text>
<text x="1634" y="2074" textLength="99" lengthAdjust="spacingAndGlyphs">0.0012</text>
<text x="1805" y="2074" textLength="99" lengthAdjust="spacingAndGlyphs">0.0006</text>
<text x="1962" y="2074" textLength="99" lengthAdjust="spacingAndGlyphs">0.0005</text>
<text x="2126" y="2074" textLength="80" lengthAdjust="spacingAndGlyphs">0.049</text>
<text x="1114" y="2134" textLength="99" lengthAdjust="spacingAndGlyphs">0.0002</text>
<text x="1299" y="2134" textLength="99" lengthAdjust="spacingAndGlyphs">0.0002</text>
<text x="1469" y="2134" textLength="99" lengthAdjust="spacingAndGlyphs">0.0002</text>
<text x="1619" y="2134" textLength="81" lengthAdjust="spacingAndGlyphs">0.025</text>
<text x="1800" y="2134" textLength="99" lengthAdjust="spacingAndGlyphs">0.0008</text>
<text x="1962" y="2134" textLength="99" lengthAdjust="spacingAndGlyphs">0.0015</text>
<text x="2128" y="2134" textLength="81" lengthAdjust="spacingAndGlyphs">0.018</text>
<text x="1115" y="2184" textLength="99" lengthAdjust="spacingAndGlyphs">0.0002</text>
<text x="1297" y="2184" textLength="99" lengthAdjust="spacingAndGlyphs">0.0003</text>
<text x="1469" y="2184" textLength="99" lengthAdjust="spacingAndGlyphs">0.0005</text>
<text x="1627" y="2184" textLength="81" lengthAdjust="spacingAndGlyphs">0.020</text>
<text x="1791" y="2184" textLength="81" lengthAdjust="spacingAndGlyphs">0.005</text>
<text x="1951" y="2184" textLength="81" lengthAdjust="spacingAndGlyphs">0.015</text>
<text x="2131" y="2184" textLength="81" lengthAdjust="spacingAndGlyphs">0.017</text>
<!-- water -->
<text x="1107" y="2359" textLength="74" lengthAdjust="spacingAndGlyphs">0.01</text>
<text x="1292" y="2359" textLength="74" lengthAdjust="spacingAndGlyphs">0.01</text>
<text x="1468" y="2359" textLength="74" lengthAdjust="spacingAndGlyphs">0.01</text>
<text x="1631" y="2359" textLength="74" lengthAdjust="spacingAndGlyphs">0.01</text>
<text x="1788" y="2359" textLength="75" lengthAdjust="spacingAndGlyphs">0.03</text>
<text x="1965" y="2359" textLength="74" lengthAdjust="spacingAndGlyphs">0.01</text>
<text x="2114" y="2359" textLength="75" lengthAdjust="spacingAndGlyphs">0.03</text>
<!-- V-0 -->
<text x="1119" y="2436" textLength="55" lengthAdjust="spacingAndGlyphs">V-0</text>
<text x="1291" y="2436" textLength="55" lengthAdjust="spacingAndGlyphs">V-0</text>
<text x="1465" y="2436" textLength="55" lengthAdjust="spacingAndGlyphs">V-0</text>
<text x="1641" y="2436" textLength="55" lengthAdjust="spacingAndGlyphs">V-0</text>
<text x="1792" y="2436" textLength="55" lengthAdjust="spacingAndGlyphs">V-0</text>
<text x="1966" y="2436" textLength="55" lengthAdjust="spacingAndGlyphs">V-0</text>
<text x="2124" y="2434" textLength="55" lengthAdjust="spacingAndGlyphs">V-0</text>
</g>

<!-- serif values: ARC, oxygen, volume resistivity -->
<g class="t m s" font-size="34">
<text x="1116" y="2271" textLength="84" lengthAdjust="spacingAndGlyphs">&gt;300</text>
<text x="1292" y="2271" textLength="84" lengthAdjust="spacingAndGlyphs">&gt;300</text>
<text x="1458" y="2271" textLength="84" lengthAdjust="spacingAndGlyphs">&gt;300</text>
<text x="1640" y="2271" textLength="84" lengthAdjust="spacingAndGlyphs">&gt;360</text>
<text x="1791" y="2271" textLength="35" lengthAdjust="spacingAndGlyphs">75</text>
<text x="1968" y="2271" textLength="35" lengthAdjust="spacingAndGlyphs">18</text>
<text x="2115" y="2269" textLength="37" lengthAdjust="spacingAndGlyphs">60</text>
<text x="1105" y="2507" textLength="64" lengthAdjust="spacingAndGlyphs">&gt;95</text>
<text x="1305" y="2507" textLength="63" lengthAdjust="spacingAndGlyphs">&gt;95</text>
<text x="1473" y="2507" textLength="63" lengthAdjust="spacingAndGlyphs">&gt;95</text>
<text x="1639" y="2507" textLength="64" lengthAdjust="spacingAndGlyphs">&gt;95</text>
<text x="1805" y="2507" textLength="34" lengthAdjust="spacingAndGlyphs">32</text>
<text x="1971" y="2507" textLength="36" lengthAdjust="spacingAndGlyphs">60</text>
<text x="2122" y="2507" textLength="36" lengthAdjust="spacingAndGlyphs">43</text>
</g>
<g class="t s" font-size="35">
<text x="1075" y="1745">&gt;10<tspan font-size="15" dy="-21">18</tspan></text>
<text x="1255" y="1745">&gt;10<tspan font-size="15" dy="-21">18</tspan></text>
<text x="1417" y="1745">&gt;10<tspan font-size="15" dy="-21">18</tspan></text>
<text x="1586" y="1745">&gt;10<tspan font-size="15" dy="-21">18</tspan></text>
<text x="1761" y="1745">&gt;10<tspan font-size="15" dy="-21">17</tspan></text>
<text x="1920" y="1745">&gt;10<tspan font-size="15" dy="-21">15</tspan></text>
<text x="2078" y="1745">&gt;10<tspan font-size="15" dy="-21">15</tspan></text>
</g>

<!-- Not Affected (mono condensed) -->
<g class="t m na" font-size="30">
<text x="1108" y="2599" textLength="144" lengthAdjust="spacingAndGlyphs">Not Affected</text>
<text x="1294" y="2596" textLength="144" lengthAdjust="spacingAndGlyphs">Not Affected</text>
<text x="1466" y="2595" textLength="145" lengthAdjust="spacingAndGlyphs">Not Affected</text>
<text x="1628" y="2595" textLength="144" lengthAdjust="spacingAndGlyphs">Not Affected</text>
<text x="1795" y="2595" textLength="145" lengthAdjust="spacingAndGlyphs">Not Affected</text>
<text x="1961" y="2595" textLength="144" lengthAdjust="spacingAndGlyphs">Not Affected</text>

<text x="1113" y="2674" textLength="143" lengthAdjust="spacingAndGlyphs">Not Affected</text>
<text x="1294" y="2674" textLength="144" lengthAdjust="spacingAndGlyphs">Not Affected</text>
<text x="1468" y="2678" textLength="145" lengthAdjust="spacingAndGlyphs">Not Affected</text>
<text x="1628" y="2678" textLength="144" lengthAdjust="spacingAndGlyphs">Not Affected</text>
<text x="1793" y="2678" textLength="145" lengthAdjust="spacingAndGlyphs">Not Affected</text>
<text x="1959" y="2678" textLength="145" lengthAdjust="spacingAndGlyphs">Not Affected</text>

<text x="1113" y="2750" textLength="143" lengthAdjust="spacingAndGlyphs">Not Affected</text>
<text x="1294" y="2750" textLength="144" lengthAdjust="spacingAndGlyphs">Not Affected</text>
<text x="1467" y="2750" textLength="145" lengthAdjust="spacingAndGlyphs">Not Affected</text>
<text x="1627" y="2750" textLength="145" lengthAdjust="spacingAndGlyphs">Not Affected</text>
<text x="1796" y="2750" textLength="145" lengthAdjust="spacingAndGlyphs">Not Affected</text>
<text x="1959" y="2750" textLength="145" lengthAdjust="spacingAndGlyphs">Not Affected</text>

<text x="1113" y="2823" textLength="143" lengthAdjust="spacingAndGlyphs">Not Affected</text>
<text x="1293" y="2827" textLength="144" lengthAdjust="spacingAndGlyphs">Not Affected</text>
<text x="1467" y="2827" textLength="145" lengthAdjust="spacingAndGlyphs">Not Affected</text>
<text x="1631" y="2828" textLength="143" lengthAdjust="spacingAndGlyphs">Not Affected</text>
<text x="1796" y="2827" textLength="145" lengthAdjust="spacingAndGlyphs">Not Affected</text>
<text x="1955" y="2827" textLength="145" lengthAdjust="spacingAndGlyphs">Not Affected</text>
<text x="2122" y="2825" textLength="145" lengthAdjust="spacingAndGlyphs">Not Affected</text>

<text x="1113" y="2913" textLength="143" lengthAdjust="spacingAndGlyphs">Not Affected</text>
<text x="1296" y="2915" textLength="144" lengthAdjust="spacingAndGlyphs">Not Affected</text>
<text x="1466" y="2913" textLength="144" lengthAdjust="spacingAndGlyphs">Not Affected</text>
<text x="1796" y="2915" textLength="145" lengthAdjust="spacingAndGlyphs">Not Affected</text>
<text x="1959" y="2915" textLength="144" lengthAdjust="spacingAndGlyphs">Not Affected</text>

<text x="1115" y="3043" textLength="144" lengthAdjust="spacingAndGlyphs">Not Affected</text>
<text x="1292" y="3043" textLength="145" lengthAdjust="spacingAndGlyphs">Not Affected</text>
<text x="1462" y="3046" textLength="145" lengthAdjust="spacingAndGlyphs">Not Affected</text>
<text x="1791" y="3043" textLength="145" lengthAdjust="spacingAndGlyphs">Not Affected</text>
<text x="1955" y="3043" textLength="145" lengthAdjust="spacingAndGlyphs">Not Affected</text>
</g>

<!-- Not Affected (sans condensed) -->
<g class="t m" font-size="31">
<text x="2118" y="2592" textLength="129" lengthAdjust="spacingAndGlyphs">Not Affected</text>
<text x="2113" y="2672" textLength="129" lengthAdjust="spacingAndGlyphs">Not Affected</text>
<text x="1622" y="2915" textLength="129" lengthAdjust="spacingAndGlyphs">Not Affected</text>
<text x="2113" y="2915" textLength="129" lengthAdjust="spacingAndGlyphs">Not Affected</text>
</g>
<g class="t" font-size="23">
<text x="2064" y="2726" textLength="103" lengthAdjust="spacingAndGlyphs">Affected By</text>
<text x="2064" y="2747" textLength="61" lengthAdjust="spacingAndGlyphs">fuming</text>
<text x="2064" y="2770" textLength="110" lengthAdjust="spacingAndGlyphs">sulfuric Acid</text>
</g>
<g class="t" font-size="29">
<text x="1563" y="2993" textLength="76" lengthAdjust="spacingAndGlyphs">Slightly</text>
<text x="1563" y="3022" textLength="110" lengthAdjust="spacingAndGlyphs">Swelled by</text>
<text x="1563" y="3050" textLength="132" lengthAdjust="spacingAndGlyphs">Halogenated</text>
<text x="1563" y="3078" textLength="76" lengthAdjust="spacingAndGlyphs">Solvent</text>
<text x="2054" y="3008" font-size="31" textLength="123" lengthAdjust="spacingAndGlyphs">Not Affected</text>
<text x="2054" y="3040" font-size="31" textLength="80" lengthAdjust="spacingAndGlyphs">By Most</text>
<text x="2054" y="3073" font-size="31" textLength="88" lengthAdjust="spacingAndGlyphs">Solvents</text>
</g>

<!-- page number -->
<rect x="0" y="3162" width="35" height="31" fill="#111"/>
<text x="4" y="3190" font-family="Liberation Sans, sans-serif" font-size="28" fill="#ffffff" textLength="27" lengthAdjust="spacingAndGlyphs">13</text>
</svg>
</body></html>
